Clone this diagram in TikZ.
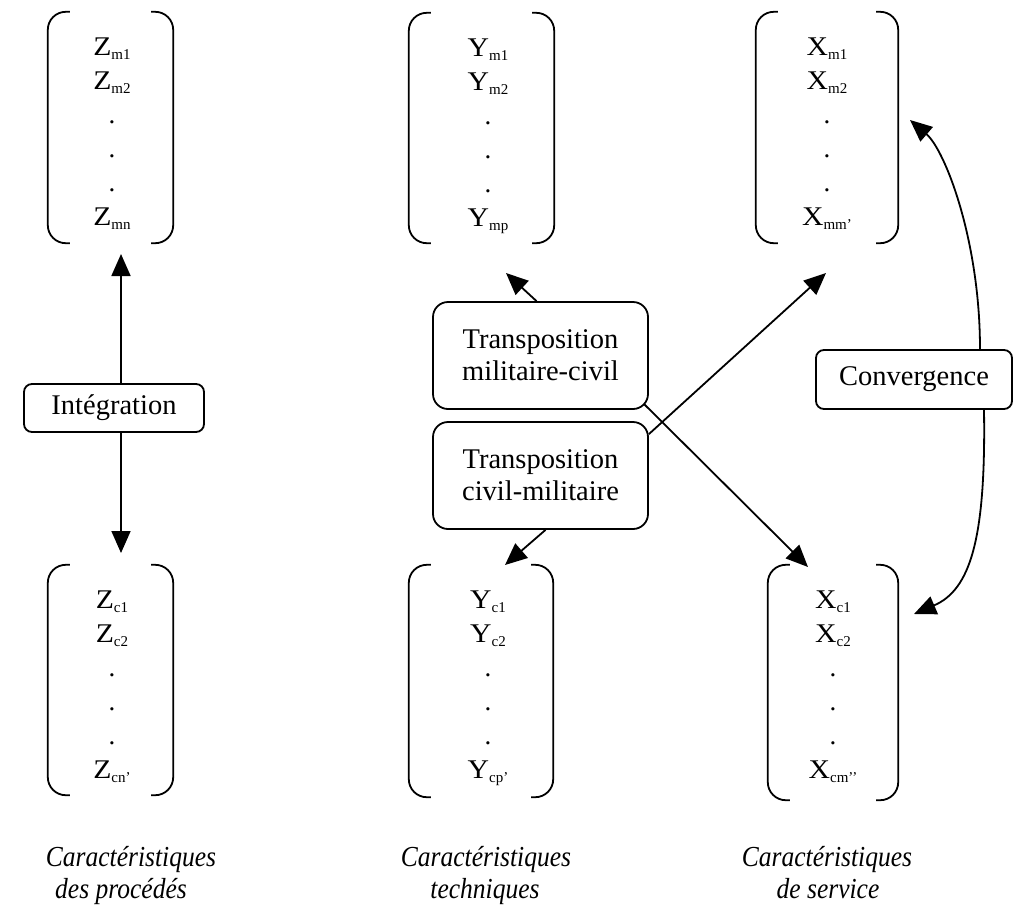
\documentclass[tikz,border=0pt]{standalone}
\usepackage{fontspec}
\setmainfont{Liberation Serif}
\usetikzlibrary{arrows.meta}
\newcommand\en[2]{\scalebox{1.1}[1]{#1}\raisebox{-4pt}{\fontsize{15}{15}\selectfont #2}}
\newcommand\brackets[1]{%
  \draw[brk] ([xshift=22pt]#1.north west) -- (#1.north west) -- (#1.south west) -- ([xshift=22pt]#1.south west);
  \draw[brk] ([xshift=-22pt]#1.north east) -- (#1.north east) -- (#1.south east) -- ([xshift=-22pt]#1.south east);}
% #1 name, #2 cx, #3 top, #4 letter, #5 sub1, #6 sub2, #7 sublast
\newcommand\entries[7]{%
  \node[ent] (#1e1) at (#2,#3+43) {\en{#4}{#5}};
  \node[ent] (#1e2) at (#2,#3+77) {\en{#4}{#6}};
  \node[ent] (#1e3) at (#2,#3+111) {.};
  \node[ent] (#1e4) at (#2,#3+145) {.};
  \node[ent] (#1e5) at (#2,#3+179) {.};
  \node[ent] (#1e6) at (#2,#3+213) {\en{#4}{#7}};}
\newcommand\lb[1]{\scalebox{0.88}[1]{#1}}
\begin{document}
\begin{tikzpicture}[x=1pt,y=-1pt,
  box/.style={draw, line width=1.8pt, align=center, inner sep=0pt,
    font=\fontsize{28.5}{32}\selectfont},
  arr/.style={line width=1.8pt, -{Triangle[length=22pt,width=19pt]}},
  brk/.style={line width=1.8pt, rounded corners=18pt},
  ent/.style={anchor=base, inner sep=0pt, font=\fontsize{27}{27}\selectfont},
  lab/.style={anchor=base, inner sep=0pt, font=\fontsize{29}{29}\selectfont\itshape},
  vecbox/.style={inner sep=0pt}]
\useasboundingbox (0,0) rectangle (1015,906);

% vectors
\node[vecbox, minimum width=125pt, minimum height=231pt] (zt) at (110.5,127.5) {};
\node[vecbox, minimum width=125pt, minimum height=230pt] (zb) at (110.5,680) {};
\node[vecbox, minimum width=145pt, minimum height=230pt] (yt) at (481.5,128) {};
\node[vecbox, minimum width=144pt, minimum height=232pt] (yb) at (481,681) {};
\node[vecbox, minimum width=142pt, minimum height=231pt] (xt) at (827,127.5) {};
\node[vecbox, minimum width=130pt, minimum height=235pt] (xb) at (833,682.5) {};
\brackets{zt}\brackets{zb}\brackets{yt}\brackets{yb}\brackets{xt}\brackets{xb}

\entries{zt}{112}{12}{Z}{m1}{m2}{mn}
\entries{zb}{112}{565}{Z}{c1}{c2}{cn’}
\entries{yt}{488}{13}{Y}{m1}{m2}{mp}
\entries{yb}{488}{565}{Y}{c1}{c2}{cp’}
\entries{xt}{827}{12}{X}{m1}{m2}{mm’}
\entries{xb}{833}{565}{X}{c1}{c2}{cm’’}

% boxes
\node[box, rounded corners=8pt, minimum width=180pt, minimum height=48pt] (integ) at (114,408) {Intégration};
\node[box, rounded corners=15pt, minimum width=215pt, minimum height=107pt] (mc) at (540.5,355.5) {Transposition\\militaire-civil};
\node[box, rounded corners=15pt, minimum width=215pt, minimum height=107pt] (cm) at (540.5,475.5) {Transposition\\civil-militaire};
\node[box, rounded corners=8pt, minimum width=196pt, minimum height=59pt] (conv) at (914,379.5) {Convergence};

% arrow tips
\coordinate (tZt) at (121,254);
\coordinate (tZb) at (121,553);
\coordinate (tYt) at (506,273);
\coordinate (tYb) at (505,565);
\coordinate (tXt) at (826,273);
\coordinate (tXb) at (808,567);
\coordinate (tCt) at (910,120);
\coordinate (tCb) at (914,614);

% connectors
\draw[arr] (integ.north -| tZt) -- (tZt);
\draw[arr] (integ.south -| tZb) -- (tZb);
\draw[arr] ([xshift=-4pt]mc.north) -- (tYt);
\draw[arr] ([xshift=-5pt,yshift=6pt]mc.south east) -- (tXb);
\draw[arr] ([yshift=-13pt]cm.north east) -- (tXt);
\draw[arr] ([xshift=5pt]cm.south) -- (tYb);
\draw[arr] ([xshift=66pt]conv.north) .. controls (980,240) and (945,150) .. (tCt);
\draw[arr] ([xshift=70pt]conv.south) .. controls (986,540) and (970,590) .. (tCb);

% labels
\node[lab] (l1a) at (131,866) {\lb{Caractéristiques}};
\node[lab] (l1b) at (121,898) {\lb{des procédés}};
\node[lab] (l2a) at (486,866) {\lb{Caractéristiques}};
\node[lab] (l2b) at (485,898) {\lb{techniques}};
\node[lab] (l3a) at (827,866) {\lb{Caractéristiques}};
\node[lab] (l3b) at (828,898) {\lb{de service}};
\end{tikzpicture}
\end{document}
